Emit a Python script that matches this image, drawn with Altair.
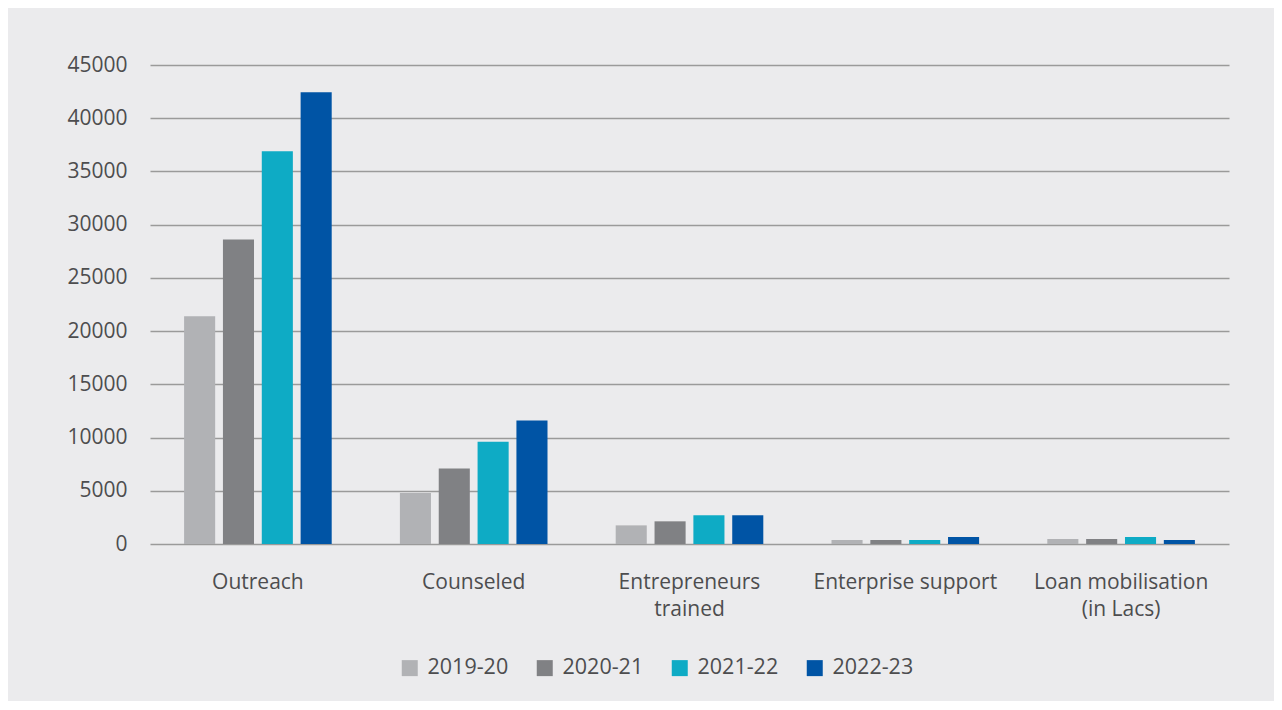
import altair as alt
import pandas as pd

categories = ["Outreach", "Counseled", "Entrepreneurs|trained", "Enterprise support", "Loan mobilisation|(in Lacs)"]
years = ["2019-20", "2020-21", "2021-22", "2022-23"]
v2019_20 = [21400, 4800, 1750, 375, 470]
v2020_21 = [28600, 7100, 2130, 375, 470]
v2021_22 = [36900, 9600, 2700, 375, 660]
v2022_23 = [42450, 11600, 2700, 660, 375]
colors = ["#b1b2b5", "#808184", "#0eabc5", "#0054a5"]
y_ticks = list(range(0, 45001, 5000))

rows = []
for yr, vals in zip(years, [v2019_20, v2020_21, v2021_22, v2022_23]):
    for c, v in zip(categories, vals):
        rows.append({"category": c, "year": yr, "value": v})
df = pd.DataFrame(rows)

text_color = "#4d4d4f"
font = "Open Sans"

chart = alt.Chart(df).mark_bar().encode(
    x=alt.X("category:N", sort=categories,
            scale=alt.Scale(paddingInner=0.316, paddingOuter=0.158),
            axis=alt.Axis(title=None, labelAngle=0, labelExpr="split(datum.label, '|')",
                          ticks=False, domain=False, grid=False, labelPadding=27,
                          labelFontSize=21, labelLineHeight=27, labelColor=text_color,
                          labelFont=font, labelLimit=400)),
    xOffset=alt.XOffset("year:N", sort=years, scale=alt.Scale(paddingInner=0.2, paddingOuter=0)),
    y=alt.Y("value:Q", scale=alt.Scale(domain=[0, 45000], nice=False),
            axis=alt.Axis(values=y_ticks, title=None, ticks=False, domain=False, format="d",
                          labelPadding=23, labelFontSize=21, labelColor=text_color, labelFont=font,
                          gridColor="#9a9a9a", gridWidth=1.3)),
    color=alt.Color("year:N", sort=years,
                    scale=alt.Scale(domain=years, range=colors),
                    legend=alt.Legend(title=None, orient="none", legendX=249, legendY=592,
                                      direction="horizontal", symbolType="square",
                                      symbolSize=256, symbolStrokeWidth=0, labelFontSize=21.5,
                                      labelColor=text_color, labelFont=font, labelOffset=7,
                                      columnPadding=25)),
).properties(
    width=1079, height=479,
    autosize=alt.AutoSizeParams(type="none"),
    padding={"left": 142, "top": 57, "right": 45, "bottom": 157},
    background="#ebebed",
).configure_view(stroke=None)

chart.save("out.html", embed_options={"renderer": "svg", "actions": False})
